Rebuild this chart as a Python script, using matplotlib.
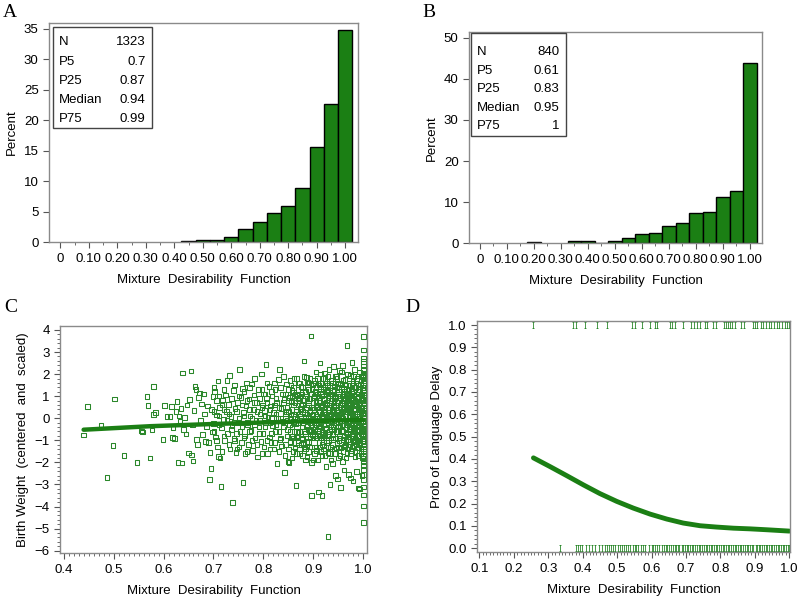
import matplotlib
matplotlib.use("Agg")
import matplotlib.pyplot as plt
from matplotlib.path import Path
from matplotlib.patches import Rectangle
from matplotlib.ticker import MultipleLocator
import numpy as np

plt.rcParams['font.family'] = ['Liberation Sans', 'DejaVu Sans']
plt.rcParams['font.size'] = 9

GREEN = '#1b7f14'
FRAME = '#8a8a8a'

# ---- panel A / B histograms (percent per 0.05 bin)
bins_a = [0.45, 0.50, 0.55, 0.60, 0.65, 0.70, 0.75, 0.80, 0.85, 0.90, 0.95, 1.00]
pct_a = [0.2, 0.35, 0.4, 0.8, 2.2, 3.3, 4.8, 5.9, 8.9, 15.6, 22.7, 34.8]
stats_a = [("N", "1323"), ("P5", "0.7"), ("P25", "0.87"), ("Median", "0.94"), ("P75", "0.99")]

bins_b = [0.20, 0.35, 0.40, 0.45, 0.50, 0.55, 0.60, 0.65, 0.70, 0.75, 0.80, 0.85, 0.90, 0.95, 1.00]
pct_b = [0.2, 0.5, 0.5, 0.15, 0.5, 1.2, 2.2, 2.6, 4.1, 5.0, 7.4, 7.6, 11.3, 12.8, 43.75]
stats_b = [("N", "840"), ("P5", "0.61"), ("P25", "0.83"), ("Median", "0.95"), ("P75", "1")]

hist_ticks = [0, 0.1, 0.2, 0.3, 0.4, 0.5, 0.6, 0.7, 0.8, 0.9, 1.0]
hist_labels = ["0", "0.10", "0.20", "0.30", "0.40", "0.50", "0.60", "0.70", "0.80", "0.90", "1.00"]

# ---- panel C: birth weight vs mixture desirability (estimated points, "x y" pairs)
bw_pairs = """
0.440 -0.76 0.448 0.52 0.475 -0.30 0.487 -2.69 0.502 0.87 0.499 -1.24 0.521 -1.68 0.547 -2.01
0.556 -0.58 0.558 -0.62 0.567 0.98 0.569 0.59 0.573 -1.81 0.577 -0.53 0.580 1.43 0.580 0.18
0.584 0.26 0.599 -0.95 0.602 0.59 0.607 0.07 0.613 0.08 0.616 0.53 0.618 -0.88 0.619 -0.45
0.622 -0.91 0.625 0.30 0.627 0.75 0.629 -2.01 0.631 0.10 0.633 -0.15 0.635 0.45 0.637 -2.03
0.638 2.05 0.640 -0.50 0.642 0.02 0.645 -0.72 0.647 0.60 0.650 -1.58 0.652 0.86 0.655 2.14
0.656 -1.66 0.658 -0.30 0.659 -1.94 0.661 0.35 0.663 1.45 0.665 1.30 0.666 -0.95 0.668 -1.20
0.670 0.95 0.672 1.15 0.674 -0.10 0.676 0.65 0.678 -0.75 0.680 1.10 0.682 0.20 0.684 -1.05
0.686 -0.40 0.688 0.55 0.690 -1.10 0.692 -2.77 0.693 -1.56 0.695 -2.27 0.696 0.40 0.698 -0.62
0.699 0.98 0.700 -0.25 0.702 1.20 0.704 -0.85 0.706 0.15 0.708 -1.30 0.709 1.69 0.710 -1.74
0.712 0.50 0.713 -1.80 0.715 -3.10 0.716 -0.45 0.718 0.82 0.720 -0.05 0.722 -1.00 0.724 1.05
0.726 0.30 0.728 -0.70 0.730 0.62 0.732 1.95 0.733 -1.40 0.735 0.08 0.737 -0.35 0.738 -3.83
0.740 1.25 0.741 -0.92 0.743 0.45 0.745 -1.55 0.747 -1.39 0.748 0.70 0.750 -0.20 0.752 2.22
0.753 -0.60 0.755 0.95 0.756 -1.10 0.758 1.35 0.759 -2.92 0.760 0.25 0.762 -0.80 0.763 -1.60
0.765 0.55 0.766 1.60 0.768 -0.30 0.770 -1.20 0.771 0.88 0.773 0.10 0.775 -0.55 0.776 1.55
0.778 -1.45 0.780 0.40 0.781 1.05 0.783 -0.90 0.785 -0.10 0.786 0.72 0.788 -1.75 0.790 1.30
0.791 -0.40 0.793 0.20 0.795 -1.05 0.796 2.00 0.798 0.60 0.799 -0.70 0.800 1.10 0.801 -1.30
0.802 0.35 0.804 -0.20 0.805 2.43 0.806 0.90 0.808 -1.60 0.809 0.05 0.811 1.45 0.812 -0.85
0.814 0.55 0.815 -1.10 0.817 1.00 0.818 -0.35 0.820 0.25 0.821 -1.40 0.823 1.30 0.824 -0.60
0.826 0.70 0.827 -2.05 0.829 0.00 0.830 1.75 0.832 2.22 0.833 -0.95 0.835 0.45 0.836 -1.25
0.838 1.10 0.839 -0.15 0.841 0.85 0.842 -2.45 0.843 -1.70 0.845 0.30 0.846 1.55 0.848 -0.50
0.849 -1.95 0.851 -2.00 0.852 0.95 0.854 -1.05 0.855 0.15 0.857 1.25 0.858 -0.80 0.860 0.60
0.861 1.80 0.863 -1.35 0.864 -0.25 0.865 -3.04 0.866 0.40 0.868 1.05 0.869 -0.65 0.871 0.80
0.872 -1.60 0.874 0.10 0.875 1.45 0.877 -0.40 0.878 0.65 0.880 -1.15 0.881 2.60 0.882 0.25
0.883 1.20 0.885 -0.90 0.886 0.50 0.887 -1.75 0.889 1.65 0.890 -0.10 0.891 0.90 0.892 -1.30
0.893 0.35 0.894 -0.55 0.895 3.73 0.896 -3.50 0.897 1.35 0.898 -0.75 0.899 0.70 0.900 -1.90
0.852 -0.30 0.856 0.75 0.859 -1.50 0.862 1.00 0.867 -0.05 0.870 -1.10 0.873 0.45 0.876 1.10
0.879 -0.20 0.884 0.05 0.888 -0.35 0.891 1.60 0.884 -1.40 0.878 -0.95 0.872 0.95 0.866 -0.85
0.860 -0.15 0.855 1.50 0.898 0.15 0.894 1.10 0.890 -1.05 0.886 1.85 0.882 -0.60 0.870 1.60
0.901 0.40 0.902 -0.80 0.903 1.20 0.904 -0.20 0.905 2.10 0.905 0.75 0.906 -1.45 0.907 0.10
0.908 -0.55 0.909 1.60 0.910 -3.35 0.910 0.95 0.911 -1.10 0.912 0.30 0.913 2.50 0.913 -0.35
0.914 1.35 0.915 -0.90 0.916 0.55 0.917 -3.50 0.917 -1.70 0.918 0.00 0.919 1.80 0.920 -0.65
0.921 0.85 0.921 -1.25 0.922 2.05 0.923 0.20 0.924 -0.45 0.925 1.10 0.925 -2.20 0.926 -1.00
0.927 0.65 0.928 -0.10 0.928 1.50 0.929 -5.35 0.929 -1.55 0.930 0.40 0.931 2.20 0.931 -0.75
0.932 1.00 0.933 -3.00 0.933 0.15 0.934 -1.30 0.935 0.80 0.935 1.70 0.936 -0.50 0.937 0.30
0.938 -2.05 0.938 1.25 0.939 -0.95 0.940 0.55 0.940 2.35 0.941 -0.20 0.942 1.45 0.942 -1.60
0.943 0.05 0.944 -2.60 0.944 0.95 0.945 -0.60 0.946 1.90 0.946 0.35 0.947 -1.15 0.948 -2.75
0.948 0.70 0.949 -0.35 0.950 1.20 0.950 -1.80 0.951 0.15 0.952 2.15 0.952 -0.80 0.953 0.60
0.954 -3.15 0.954 1.55 0.955 -1.35 0.955 0.25 0.956 -0.10 0.957 1.00 0.957 -0.55 0.958 2.40
0.958 -1.95 0.959 0.45 0.960 -0.95 0.960 1.35 0.961 -2.35 0.961 0.80 0.962 -0.30 0.963 1.75
0.963 0.10 0.964 -1.20 0.965 0.55 0.965 -0.65 0.966 1.15 0.967 3.31 0.967 -1.55 0.968 0.30
0.968 2.00 0.969 -0.15 0.970 -2.55 0.970 0.90 0.971 -0.85 0.971 1.50 0.972 0.05 0.973 -1.05
0.973 0.65 0.974 -2.70 0.974 1.95 0.975 -0.40 0.975 0.35 0.976 1.25 0.976 -1.45 0.977 2.52
0.977 0.00 0.978 -0.70 0.978 0.85 0.979 -2.85 0.979 1.60 0.980 -0.25 0.980 0.45 0.981 -1.25
0.981 1.05 0.982 -0.55 0.982 2.20 0.983 0.20 0.983 -1.75 0.984 0.75 0.984 -0.95 0.985 1.40
0.985 -0.05 0.986 -2.40 0.986 0.55 0.987 -0.60 0.987 1.80 0.988 0.10 0.988 -1.35 0.989 0.95
0.989 -0.35 0.990 -3.16 0.990 1.30 0.991 -0.80 0.991 0.40 0.992 -3.20 0.992 2.10 0.993 -1.10
0.993 0.65 0.994 -0.15 0.994 1.55 0.995 -1.60 0.995 0.25 0.996 -0.45 0.996 1.10 0.997 -2.60
0.997 0.80 0.998 -0.75 0.998 1.90
0.903 -0.40 0.908 0.60 0.912 -1.30 0.916 1.00 0.920 0.25 0.924 -0.10 0.927 1.25 0.931 0.10
0.936 1.10 0.939 -0.40 0.943 0.90 0.947 0.20 0.951 -1.00 0.956 0.70 0.959 -0.60 0.962 0.45
0.966 -0.30 0.969 1.25 0.972 -0.50 0.975 0.95 0.978 0.20 0.981 -0.10 0.984 0.40 0.987 -1.05
0.990 0.70 0.993 0.00 0.996 0.50 0.904 1.60 0.910 -0.25 0.918 -0.75 0.923 1.60 0.930 -1.00
0.937 -0.15 0.941 0.75 0.945 -1.35 0.949 1.55 0.953 -0.35 0.958 0.30 0.961 -1.25 0.964 0.90
0.968 -0.95 0.971 0.40 0.974 -0.25 0.977 1.35 0.980 -1.05 0.983 0.60 0.986 -0.20 0.989 1.20
0.992 -0.55 0.995 0.85 0.998 -0.10
1.000 3.70 1.000 3.10 1.000 2.72 1.000 2.58 1.000 2.37 1.000 2.22 1.000 2.05 1.000 1.93
1.000 1.77 1.000 1.62 1.000 1.48 1.000 1.31 1.000 1.17 1.000 1.02 1.000 0.88 1.000 0.71
1.000 0.57 1.000 0.44 1.000 0.27 1.000 0.13 1.000 -0.02 1.000 -0.16 1.000 -0.33 1.000 -0.47
1.000 -0.61 1.000 -0.78 1.000 -0.92 1.000 -1.06 1.000 -1.22 1.000 -1.37 1.000 -1.52 1.000 -1.68
1.000 -1.83 1.000 -1.97 1.000 -2.14 1.000 -2.33 1.000 -2.56 1.000 -2.78 1.000 -3.12 1.000 -3.47
1.000 -3.98 1.000 -4.72
"""
# the dense core, one line per x value with the y values seen there
bw_columns = """
0.701: -0.6 0.3 1.4
0.706: -1.0 0.8
0.711: 0.1 -0.3 1.0
0.717: -1.5 0.6
0.721: 0.4 -0.8 1.3
0.727: -0.1 1.7
0.731: -1.2 0.2
0.736: 0.9 -0.5
0.742: -0.2 1.5 -1.0
0.746: 0.3 -0.7
0.751: 1.0 -1.3 0.0
0.757: -0.4 0.6
0.761: 1.2 -0.9 0.1
0.767: -0.2 0.8 -1.5
0.772: 0.4 1.4 -0.6
0.777: -1.0 0.0
0.782: 0.7 -0.3 1.8
0.787: -1.2 0.3
0.792: 0.9 -0.7 -0.1
0.797: 1.3 -1.6 0.5
0.803: -0.4 0.1 1.1
0.807: -1.0 0.7 1.6
0.813: -0.2 0.4 -1.4
0.816: 1.2 -0.7 0.0
0.822: 0.6 -1.1 1.6
0.825: -0.3 0.2 0.9
0.831: -1.5 0.5 -0.6
0.834: 1.4 0.0 -0.9
0.840: -0.4 0.7 1.9
0.844: -1.2 0.2 1.1
0.847: 0.5 -0.8 -0.1
0.850: 1.3 -1.4 0.3 0.8
0.853: -0.6 1.7 0.0 -1.1
0.857: 0.4 -0.4 1.0 -1.8
0.860: 1.4 -0.9 0.2 -0.2
0.863: 0.7 -1.3 1.1 0.0
0.866: -0.6 1.8 0.3 -1.6
0.869: 0.9 -0.2 -1.0 1.3
0.872: 0.2 -0.6 1.6 -1.4
0.875: 0.6 -1.2 0.0 1.0
0.878: -0.4 1.4 0.3 -0.9 -1.7
0.881: 0.8 -0.1 1.9 -1.3
0.884: 0.4 -0.7 1.2 -1.9 0.0
0.887: -0.3 0.9 -1.1 1.6 0.2
0.890: 0.6 -0.5 1.3 -1.5 0.0
0.893: -0.9 0.3 1.8 -0.2 0.9
0.896: 0.5 -1.3 1.1 -0.6 -2.0
0.899: 1.5 -0.1 0.7 -0.9 0.2
0.902: -0.5 1.0 -1.6 0.4 1.7 0.0
0.905: 0.8 -0.9 1.4 -0.3 0.2 -1.3
0.908: -0.1 1.1 -0.7 0.5 1.8 -1.9
0.911: 0.3 -0.4 1.5 -1.1 0.8 0.0
0.914: -0.8 0.6 -0.2 1.2 -1.5 2.0
0.917: 0.2 -0.6 1.0 -1.2 0.5 1.6
0.920: -0.3 0.9 -1.4 0.1 1.3 -0.9
0.923: 0.6 -0.1 1.8 -0.7 -1.7 0.3
0.926: -0.5 1.2 0.0 -1.1 0.7 1.6
0.929: 0.4 -0.8 1.0 -0.2 1.9 -1.3
0.932: -0.6 0.5 -1.6 1.4 0.1 0.8
0.935: 0.2 -0.3 1.1 -0.9 -1.9 0.6
0.938: -0.7 0.9 0.0 1.6 -1.2 0.4
0.941: 0.3 -0.5 1.3 -1.4 0.8 -0.1
0.944: -0.2 1.0 -0.9 0.5 1.9 -1.6
0.947: 0.7 -0.6 1.4 0.1 -1.1 1.8
0.950: -0.4 0.4 -1.3 1.1 0.0 0.8
0.953: 0.2 -0.9 1.6 -0.2 1.0 -1.7
0.956: -0.6 0.6 -1.1 1.3 0.2 2.1
0.959: 0.9 -0.3 0.0 -1.5 1.7 0.5
0.962: -0.8 0.3 1.2 -0.1 -1.3 0.9
0.965: 0.5 -0.5 1.5 -1.0 0.1 -1.8
0.968: -0.2 0.8 -0.7 1.1 0.4 -1.4
0.971: 0.1 -1.2 1.8 -0.4 0.7 1.3
0.974: -0.6 0.5 -0.1 1.0 -1.6 0.3
0.977: 0.9 -0.8 1.5 0.0 -1.3 0.6
0.980: -0.3 1.2 -1.0 0.4 1.9 -0.6
0.983: 0.1 -1.5 0.8 -0.2 1.4 -0.9
0.986: 0.6 -0.5 1.1 -1.2 0.2 1.7
0.989: -0.1 0.9 -0.8 0.4 -1.7 1.5
0.992: 0.3 -0.4 1.3 -1.1 0.7 0.0
0.995: -0.7 0.5 1.9 -0.2 1.0 -1.4
0.998: 0.2 -1.0 0.8 -0.5 1.4 -1.8
"""
bw_vals = np.array(bw_pairs.split(), dtype=float)
bw_x = list(bw_vals[0::2])
bw_y = list(bw_vals[1::2])
for line in bw_columns.strip().splitlines():
    xs, ys = line.split(":")
    for yv in ys.split():
        bw_x.append(float(xs))
        bw_y.append(float(yv))

bw_fit_x = [0.44, 0.574, 0.70, 0.79, 0.88, 1.00]
bw_fit_y = [-0.52, -0.36, -0.26, -0.20, -0.14, -0.07]

# ---- panel D: observed delays (rug) and fitted probability
delay_yes = [0.257, 0.373, 0.381, 0.407, 0.442, 0.472, 0.544, 0.552, 0.573, 0.596, 0.610,
             0.617, 0.654, 0.660, 0.667, 0.692, 0.714, 0.723, 0.733, 0.741, 0.755, 0.762,
             0.779, 0.787, 0.811, 0.816, 0.823, 0.829, 0.835, 0.842, 0.859, 0.867, 0.894,
             0.900, 0.905, 0.917, 0.925, 0.933, 0.940, 0.948, 0.956, 0.963, 0.971, 0.979,
             0.987, 0.994, 1.000]
delay_no = [0.334, 0.381, 0.386, 0.392, 0.398, 0.411, 0.417, 0.428, 0.435, 0.447, 0.455,
            0.465, 0.470, 0.476, 0.482, 0.489, 0.495, 0.502, 0.508, 0.515, 0.521, 0.526,
            0.532, 0.538, 0.545, 0.551, 0.556, 0.562, 0.568, 0.574, 0.580, 0.592, 0.601,
            0.604, 0.611, 0.615, 0.621, 0.631, 0.636, 0.642, 0.646, 0.651, 0.657, 0.661,
            0.667, 0.672, 0.676, 0.681, 0.687, 0.692, 0.697, 0.702, 0.706, 0.712, 0.717,
            0.721, 0.727, 0.732, 0.737, 0.741, 0.746, 0.752, 0.757, 0.761, 0.766, 0.772,
            0.776, 0.781, 0.787, 0.791, 0.796, 0.802, 0.806, 0.811, 0.817, 0.821, 0.826,
            0.831, 0.836, 0.842, 0.846, 0.851, 0.857, 0.861, 0.866, 0.871, 0.877, 0.881,
            0.886, 0.891, 0.896, 0.902, 0.906, 0.911, 0.916, 0.922, 0.926, 0.931, 0.936,
            0.941, 0.946, 0.951, 0.956, 0.961, 0.966, 0.971, 0.976, 0.981, 0.986, 0.991,
            0.996, 1.000]
prob_x = [0.257, 0.305, 0.354, 0.402, 0.450, 0.499, 0.547, 0.596, 0.644, 0.692, 0.741,
          0.789, 0.838, 0.886, 0.934, 1.000]
prob_y = [0.405, 0.366, 0.325, 0.284, 0.245, 0.210, 0.180, 0.153, 0.131, 0.113, 0.101,
          0.095, 0.090, 0.087, 0.083, 0.077]

W, H = 800, 601
fig = plt.figure(figsize=(W / 100, H / 100), dpi=100)


def box(l, t, r, b):
    return [l / W, 1 - b / H, (r - l) / W, (b - t) / H]


def frame(ax):
    for s in ax.spines.values():
        s.set_color(FRAME)
        s.set_linewidth(1.0)
    ax.tick_params(which='both', direction='out', color='#555555', labelsize=9.5)
    ax.tick_params(which='major', length=4)
    ax.tick_params(which='minor', length=2)


def stats_box(ax, rows, x0, x1, ytop, ybot, xlab, xval, ys):
    ax.add_patch(Rectangle((x0, ybot), x1 - x0, ytop - ybot, transform=ax.transAxes,
                           fill=False, edgecolor='#444444', linewidth=1.0, zorder=5))
    for (name, val), y in zip(rows, ys):
        ax.text(xlab, y, name, transform=ax.transAxes, ha='left', va='center', fontsize=9.5)
        ax.text(xval, y, val, transform=ax.transAxes, ha='right', va='center', fontsize=9.5)


def histogram(ax, centers, pct, ymax, yticks):
    ax.bar(centers, pct, width=0.05, color=GREEN, edgecolor='black', linewidth=1.0)
    ax.set_xlim(-0.04, 1.045)
    ax.set_ylim(0, ymax)
    ax.set_xticks(hist_ticks)
    ax.set_xticklabels(hist_labels)
    ax.xaxis.set_minor_locator(MultipleLocator(0.05))
    ax.set_yticks(yticks)
    ax.set_xlabel("Mixture  Desirability  Function", fontsize=9.5, labelpad=7)
    ax.set_ylabel("Percent", fontsize=9.5)
    frame(ax)


# A
axA = fig.add_axes(box(49, 22.7, 358, 242.3))
histogram(axA, bins_a, pct_a, 36, [0, 5, 10, 15, 20, 25, 30, 35])
stats_box(axA, stats_a, 0.012, 0.332, 0.982, 0.519, 0.032, 0.313,
          [0.911, 0.820, 0.735, 0.648, 0.560])

# B
axB = fig.add_axes(box(469, 32.3, 762, 243.3))
histogram(axB, bins_b, pct_b, 51.3, [0, 10, 20, 30, 40, 50])
stats_box(axB, stats_b, 0.006, 0.330, 0.995, 0.509, 0.026, 0.308,
          [0.908, 0.817, 0.730, 0.643, 0.556])

# C
axC = fig.add_axes(box(60.3, 326, 366.7, 553.3))
axC.scatter(bw_x, bw_y, s=11, marker='s', facecolors='none', edgecolors='#2a872a',
            linewidths=0.75, zorder=2)
axC.plot(bw_fit_x, bw_fit_y, color=GREEN, linewidth=3.2, solid_capstyle='round', zorder=3)
axC.set_xlim(0.3933, 1.0068)
axC.set_ylim(-6.12, 4.18)
axC.set_xticks([0.4, 0.5, 0.6, 0.7, 0.8, 0.9, 1.0])
axC.xaxis.set_minor_locator(MultipleLocator(0.01))
axC.set_yticks([-6, -5, -4, -3, -2, -1, 0, 1, 2, 3, 4])
axC.yaxis.set_minor_locator(MultipleLocator(0.2))
axC.set_xlabel("Mixture  Desirability  Function", fontsize=9.5, labelpad=7)
axC.set_ylabel("Birth Weight  (centered  and  scaled)", fontsize=9.5)
frame(axC)

# D
tick_mark = Path([(-0.5, -1), (0.5, -1), (0, -1), (0, 1), (-0.5, 1), (0.5, 1)],
                 [Path.MOVETO, Path.LINETO, Path.MOVETO, Path.LINETO, Path.MOVETO, Path.LINETO])
axD = fig.add_axes(box(477.3, 321, 790, 552.3))
axD.plot(delay_yes, np.ones(len(delay_yes)), linestyle='none', marker=tick_mark,
         markersize=4, markeredgewidth=0.6, color='#2a872a')
axD.plot(delay_no, np.zeros(len(delay_no)), linestyle='none', marker=tick_mark,
         markersize=4, markeredgewidth=0.6, color='#2a872a')
axD.plot(prob_x, prob_y, color=GREEN, linewidth=3.5, solid_capstyle='round')
axD.set_xlim(0.094, 1.002)
axD.set_ylim(-0.018, 1.018)
axD.set_xticks([0.1, 0.2, 0.3, 0.4, 0.5, 0.6, 0.7, 0.8, 0.9, 1.0])
axD.xaxis.set_minor_locator(MultipleLocator(0.01))
axD.set_yticks(np.arange(0, 11) / 10)
axD.set_yticklabels(["0.0", "0.1", "0.2", "0.3", "0.4", "0.5", "0.6", "0.7", "0.8", "0.9", "1.0"])
axD.yaxis.set_minor_locator(MultipleLocator(0.02))
axD.set_xlabel("Mixture  Desirability  Function", fontsize=9.5, labelpad=7)
axD.set_ylabel("Prob of Language Delay", fontsize=9.5)
frame(axD)

# panel letters
for letter, x, y in [("A", 3, 17), ("B", 422, 17), ("C", 4, 312), ("D", 405, 312)]:
    fig.text(x / W, 1 - y / H, letter, family='Liberation Serif', fontsize=14,
             ha='left', va='baseline')

fig.savefig("out.png", dpi=100)
